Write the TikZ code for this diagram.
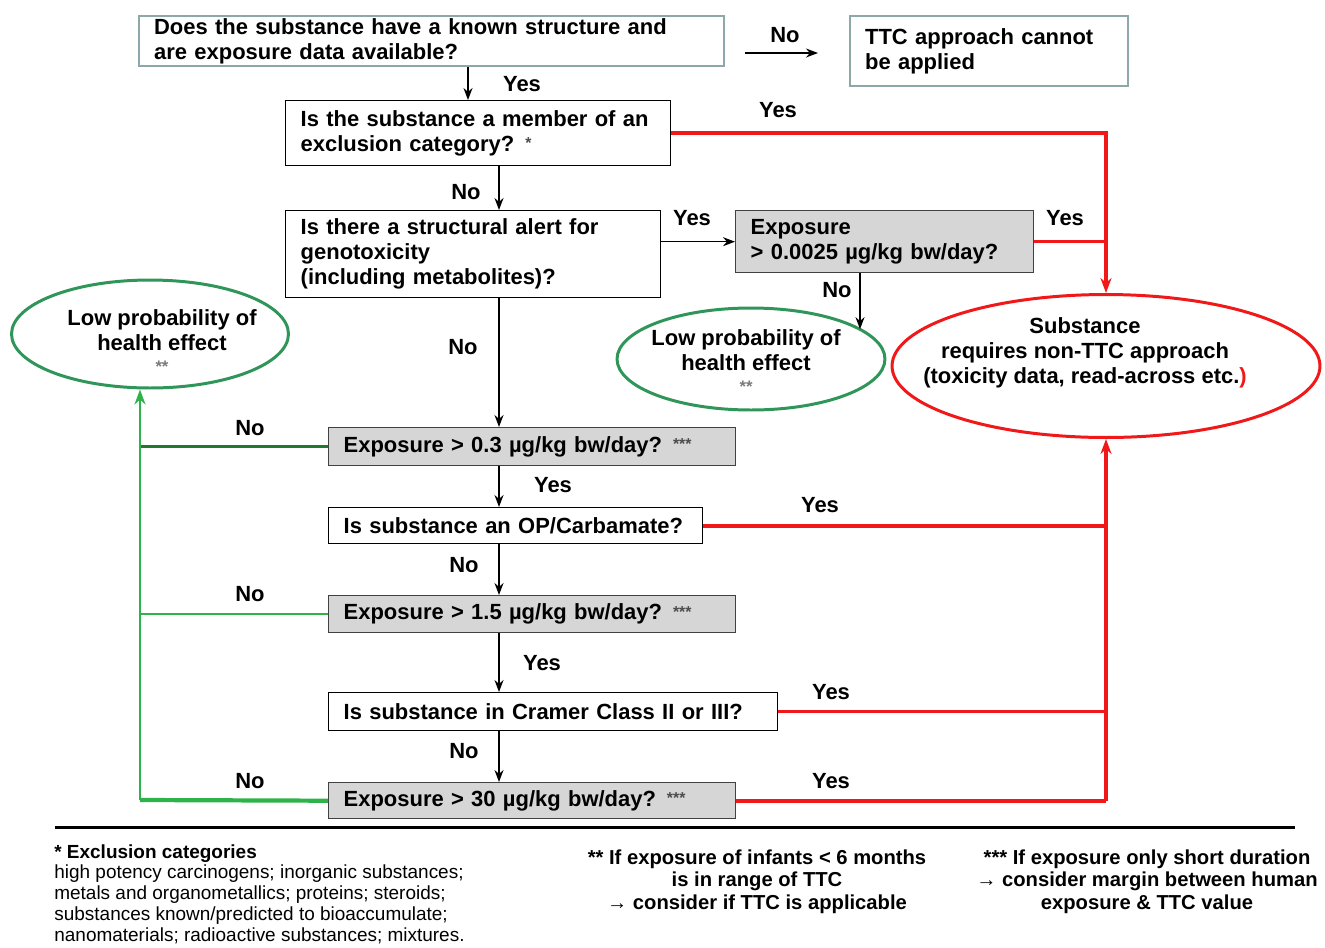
\documentclass[tikz,border=0pt]{standalone}
\usepackage{fontspec}
\setmainfont{Liberation Sans}
\usetikzlibrary{arrows.meta, positioning, shapes.geometric}
\definecolor{ttcRed}{HTML}{F01818}
\definecolor{ttcGreen}{HTML}{2DB34A}
\definecolor{ttcDkGreen}{HTML}{1F7A2E}
\definecolor{ttcOval}{HTML}{2F9558}
\definecolor{ttcFrame}{HTML}{8EA7A9}
\definecolor{ttcGray}{HTML}{D6D6D6}
\definecolor{starGray}{HTML}{7A7A7A}
\tikzset{
  arrowK/.style={-{Stealth[length=2.4mm, width=1.8mm]}, black, line width=0.8pt},
  arrowR/.style={-{Stealth[length=3mm, width=2.2mm]}, ttcRed, line width=2pt},
  arrowG/.style={-{Stealth[length=3mm, width=2.2mm]}, ttcGreen, line width=1.7pt},
  lineR/.style={ttcRed, line width=2.4pt},
  lineRt/.style={ttcRed, line width=1.4pt},
  lineG/.style={ttcGreen, line width=1.3pt},
  lineGw/.style={ttcGreen, line width=2.4pt},
  lineGd/.style={ttcDkGreen, line width=1.7pt},
  boxW/.style={rectangle, draw=black, line width=0.8pt, fill=white, anchor=north west,
               align=left, inner xsep=0.3cm, inner ysep=1pt},
  boxG/.style={boxW, draw=black!75, fill=ttcGray},
  boxT/.style={boxW, draw=ttcFrame, line width=1.3pt},
  ovalG/.style={ellipse, draw=ttcOval, line width=1.7pt, fill=white, inner sep=0pt},
  ovalR/.style={ellipse, draw=ttcRed, line width=1.7pt, fill=white, inner sep=0pt},
  ovalTxt/.style={align=center, inner sep=0pt},
  lbl/.style={inner sep=0pt},
  note/.style={inner sep=0pt, align=center, font=\bfseries\fontsize{11.5}{13}\selectfont},
}
\newcommand{\starmark}[1]{{\fontsize{9.5}{9.5}\selectfont\color{starGray}#1}}
\newcommand{\stars}[1]{\raisebox{1.5pt}{\fontsize{9}{9}\selectfont\color{black!70}#1}}
\begin{document}
\begin{tikzpicture}[x=0.02cm, y=-0.02cm, font=\bfseries\fontsize{12.5}{14.2}\selectfont]
  \useasboundingbox (0,0) rectangle (1325,947);
  % questions
  \node[boxT, text width=11.1cm, minimum height=1.0cm] (known) at (138,15)
    {Does the substance have a known structure and\\are exposure data available?};
  \node[boxT, text width=4.96cm, minimum height=1.4cm] (notTTC) at (849,15)
    {TTC approach cannot\\be applied};
  \node[boxW, text width=7.1cm, minimum height=1.3cm] (excl) at (285,100)
    {Is the substance a member of an\\exclusion category? \stars{*}};
  \node[boxW, text width=6.9cm, minimum height=1.74cm] (alert) at (285,210)
    {Is there a structural alert for\\genotoxicity\\(including metabolites)?};
  \node[boxG, text width=5.36cm, minimum height=1.24cm] (expGeno) at (735,210)
    {Exposure\\> 0.0025 µg/kg bw/day?};
  \node[boxG, text width=7.54cm, minimum height=0.76cm] (exp03) at (328,427)
    {Exposure > 0.3 µg/kg bw/day? \stars{***}};
  \node[boxW, text width=6.88cm, minimum height=0.72cm] (opc) at (328,507)
    {Is substance an OP/Carbamate?};
  \node[boxG, text width=7.54cm, minimum height=0.74cm] (exp15) at (328,595)
    {Exposure > 1.5 µg/kg bw/day? \stars{***}};
  \node[boxW, text width=8.38cm, minimum height=0.76cm] (cramer) at (328,692)
    {Is substance in Cramer Class II or III?};
  \node[boxG, text width=7.54cm, minimum height=0.72cm] (exp30) at (328,782)
    {Exposure > 30 µg/kg bw/day? \stars{***}};
  % outcomes
  \node[ovalG, minimum width=5.54cm, minimum height=2.16cm] (lowL) at (150,334) {};
  \node[ovalTxt] (lowLtxt) at (162,341)
    {Low probability of\\health effect\\[-2pt]\starmark{**}};
  \node[ovalG, minimum width=5.36cm, minimum height=2.04cm] (lowM) at (751,359) {};
  \node[ovalTxt] (lowMtxt) at (746,361)
    {Low probability of\\health effect\\[-2pt]\starmark{**}};
  \node[ovalR, minimum width=8.56cm, minimum height=2.86cm] (nonTTC) at (1106,366) {};
  \node[ovalTxt] (nonTTCtxt) at (1085,353)
    {Substance\\requires non-TTC approach\\(toxicity data, read-across etc.\textcolor{ttcRed}{)}};
  % spine
  \coordinate (spA) at (468,0);
  \coordinate (spB) at (499,0);
  \coordinate (spC) at (860,0);
  \coordinate (noS) at (745,53);
  \coordinate (noE) at (818,53);
  \coordinate (gB) at (140,800);
  \draw[arrowK] (noS) -- (noE);
  \draw[arrowK] (known.south -| spA) -- (excl.north -| spA);
  \foreach \a/\b in {excl/alert, alert/exp03, exp03/opc, opc/exp15, exp15/cramer, cramer/exp30}
    \draw[arrowK] (\a.south -| spB) -- (\b.north -| spB);
  \draw[arrowK] (expGeno.west -| alert.east) -- (expGeno.west);
  \draw[arrowK] (expGeno.south -| spC) -- (lowM.15 -| spC);
  % red: non-TTC
  \draw[arrowR] (excl.east) -| (nonTTC.north);
  \draw[lineRt, line width=1.8pt] (expGeno.east) -- (expGeno.east -| nonTTC.north);
  \draw[lineR] (opc.east) -- (opc.east -| nonTTC.south);
  \draw[lineRt] (cramer.east) -- (cramer.east -| nonTTC.south);
  \draw[lineR] (exp30.east) -- (exp30.east -| nonTTC.south);
  \draw[arrowR] (exp30.east -| nonTTC.south) -- (nonTTC.south);
  % green: low probability
  \draw[lineGd] (exp03.west) -- (exp03.west -| gB);
  \draw[lineG] (exp15.west) -- (exp15.west -| gB);
  \draw[lineGw] (exp30.west) -- (gB);
  \draw[arrowG] (gB) -- (gB |- lowL.south);
  % labels
  \node[lbl] (lNoA) at (785,35) {No};
  \node[lbl] (lYesA) at (522,84) {Yes};
  \node[lbl] (lYesB) at (778,110) {Yes};
  \node[lbl] (lNoB) at (466,192) {No};
  \node[lbl] (lYesC) at (692,218) {Yes};
  \node[lbl] (lYesD) at (1065,218) {Yes};
  \node[lbl] (lNoC) at (837,290) {No};
  \node[lbl] (lNoD) at (463,347) {No};
  \node[lbl] (lNoE) at (250,428) {No};
  \node[lbl] (lYesE) at (553,485) {Yes};
  \node[lbl] (lYesF) at (820,505) {Yes};
  \node[lbl] (lNoF) at (464,565) {No};
  \node[lbl] (lNoG) at (250,594) {No};
  \node[lbl] (lYesG) at (542,663) {Yes};
  \node[lbl] (lYesH) at (831,692) {Yes};
  \node[lbl] (lNoH) at (464,751) {No};
  \node[lbl] (lNoI) at (250,781) {No};
  \node[lbl] (lYesI) at (831,781) {Yes};
  % footnotes
  \draw[line width=1.7pt] (55,827) -- (1295,827);
  \node[anchor=north west, align=left, inner sep=0pt, font=\fontsize{10.8}{11.8}\selectfont] (fnExcl) at (54,844)
    {\textbf{* Exclusion categories}\\
     high potency carcinogens; inorganic substances;\\
     metals and organometallics; proteins; steroids;\\
     substances known/predicted to bioaccumulate;\\
     nanomaterials; radioactive substances; mixtures.};
  \node[note, anchor=north] (fnInf) at (757,849)
    {** If exposure of infants < 6 months\\is in range of TTC\\→ consider if TTC is applicable};
  \node[note, anchor=north] (fnDur) at (1147,849)
    {*** If exposure only short duration\\→ consider margin between human\\exposure \& TTC value};
\end{tikzpicture}
\end{document}
